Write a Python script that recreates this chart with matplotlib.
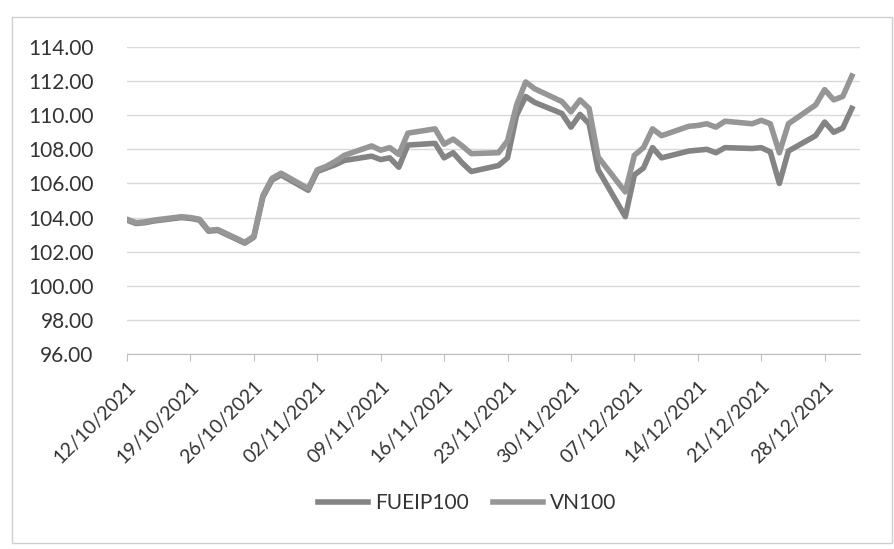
import matplotlib
matplotlib.use("Agg")
import matplotlib.pyplot as plt
import matplotlib.transforms as mtransforms
from matplotlib.patches import Rectangle
import pandas as pd

dates = [
    "12/10/2021", "13/10/2021", "14/10/2021", "15/10/2021",
    "18/10/2021", "19/10/2021", "20/10/2021", "21/10/2021", "22/10/2021",
    "25/10/2021", "26/10/2021", "27/10/2021", "28/10/2021", "29/10/2021",
    "01/11/2021", "02/11/2021", "03/11/2021", "04/11/2021", "05/11/2021",
    "08/11/2021", "09/11/2021", "10/11/2021", "11/11/2021", "12/11/2021",
    "15/11/2021", "16/11/2021", "17/11/2021", "18/11/2021", "19/11/2021",
    "22/11/2021", "23/11/2021", "24/11/2021", "25/11/2021", "26/11/2021",
    "29/11/2021", "30/11/2021", "01/12/2021", "02/12/2021", "03/12/2021",
    "06/12/2021", "07/12/2021", "08/12/2021", "09/12/2021", "10/12/2021",
    "13/12/2021", "14/12/2021", "15/12/2021", "16/12/2021", "17/12/2021",
    "20/12/2021", "21/12/2021", "22/12/2021", "23/12/2021", "24/12/2021",
    "27/12/2021", "28/12/2021", "29/12/2021", "30/12/2021", "31/12/2021",
]

fueip100 = [
    103.85, 103.65, 103.70, 103.80,
    104.00, 103.95, 103.85, 103.20, 103.25,
    102.50, 102.85, 105.20, 106.20, 106.50,
    105.60, 106.70, 106.90, 107.10, 107.35,
    107.60, 107.40, 107.50, 106.95, 108.25,
    108.35, 107.50, 107.80, 107.20, 106.70,
    107.05, 107.50, 110.00, 111.10, 110.75,
    110.10, 109.30, 110.05, 109.50, 106.80,
    104.05, 106.50, 106.90, 108.10, 107.50,
    107.90, 107.95, 108.00, 107.80, 108.10,
    108.05, 108.10, 107.85, 106.00, 107.90,
    108.80, 109.60, 109.00, 109.25, 110.40,
]

vn100 = [
    103.90, 103.70, 103.75, 103.85,
    104.05, 104.00, 103.90, 103.25, 103.30,
    102.55, 102.90, 105.30, 106.30, 106.60,
    105.70, 106.80, 107.00, 107.30, 107.65,
    108.20, 107.95, 108.10, 107.70, 108.95,
    109.20, 108.30, 108.60, 108.20, 107.75,
    107.80, 108.50, 110.60, 111.95, 111.55,
    110.80, 110.20, 110.90, 110.40, 107.55,
    105.50, 107.65, 108.10, 109.20, 108.80,
    109.35, 109.40, 109.50, 109.30, 109.65,
    109.50, 109.70, 109.50, 107.80, 109.50,
    110.60, 111.50, 110.90, 111.10, 112.30,
]

tick_dates = [
    "12/10/2021", "19/10/2021", "26/10/2021", "02/11/2021", "09/11/2021",
    "16/11/2021", "23/11/2021", "30/11/2021", "07/12/2021", "14/12/2021",
    "21/12/2021", "28/12/2021",
]

y_ticks = [96, 98, 100, 102, 104, 106, 108, 110, 112, 114]

x = pd.to_datetime(dates, dayfirst=True)
xt = pd.to_datetime(tick_dates, dayfirst=True)

plt.rcParams["font.family"] = ["Lato", "DejaVu Sans"]

fig = plt.figure(figsize=(8.95, 5.49), dpi=100)
ax = fig.add_axes([127 / 895, 1 - 354 / 549, (860 - 127) / 895, (354 - 47) / 549])

ax.plot(x, fueip100, color="#848484", lw=4, label="FUEIP100", solid_joinstyle="round")
ax.plot(x, vn100, color="#969696", lw=4, label="VN100", solid_joinstyle="round")

ax.set_ylim(96, 114)
ax.set_yticks(y_ticks)
ax.set_yticklabels([f"{v:.2f}" for v in y_ticks], fontsize=15, color="#333333")
ax.set_xlim(x[0], x[-1] + pd.Timedelta(days=0.9))
ax.set_xticks(xt)
ax.set_xticklabels([d.strftime("%d/%m/%Y") for d in xt], fontsize=14, color="#333333",
                   rotation=45, ha="right", va="top", rotation_mode="anchor")
offset = mtransforms.ScaledTranslation(12 / 100, 0, fig.dpi_scale_trans)
for lab in ax.get_xticklabels():
    lab.set_transform(lab.get_transform() + offset)

ax.grid(axis="y", color="#d9d9d9", lw=1)
ax.set_axisbelow(True)
for s in ["top", "right", "left"]:
    ax.spines[s].set_visible(False)
ax.spines["bottom"].set_color("#bfbfbf")
ax.tick_params(axis="y", length=0, pad=24)
ax.tick_params(axis="x", length=5, color="#bfbfbf", pad=12)

fig.legend(loc="center", bbox_to_anchor=(0.522, 0.084), ncol=2, frameon=False,
           fontsize=15, handlelength=2.4, handletextpad=0.3, columnspacing=1.2,
           labelcolor="#333333")

fig.patches.append(Rectangle((12 / 895, 1 - 543 / 549), (892 - 12) / 895, (543 - 17) / 549,
                             transform=fig.transFigure, fill=False, ec="#cfcfcf", lw=1))

fig.savefig("out.png", dpi=100)
